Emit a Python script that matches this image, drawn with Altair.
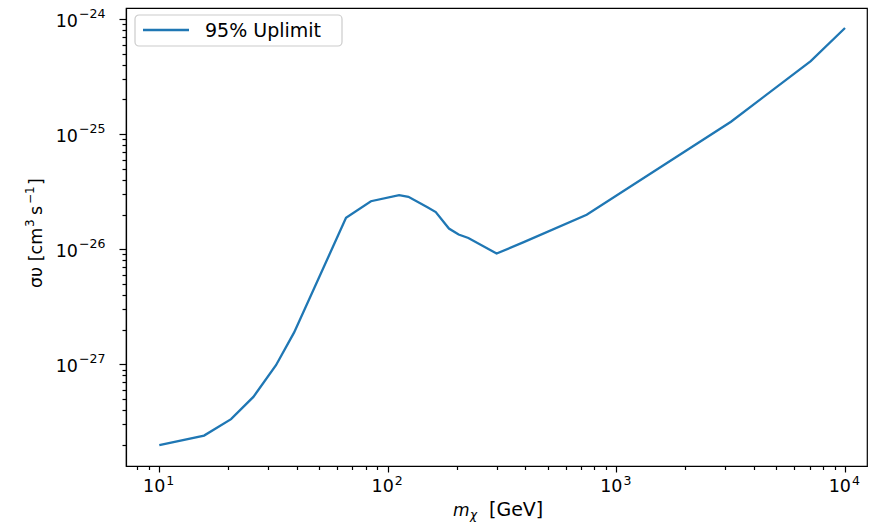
import altair as alt
import pandas as pd

# Data
mass_gev = [10, 15.7, 20.6, 25.8, 32.4, 38.9, 65.6, 84.3, 112, 123, 149, 162,
            185, 204, 225, 299, 393, 741, 3170, 7080, 10000]
sigma_v = [1.98e-28, 2.40e-28, 3.33e-28, 5.2e-28, 9.8e-28, 1.89e-27, 1.87e-26,
           2.61e-26, 2.95e-26, 2.85e-26, 2.31e-26, 2.10e-26, 1.51e-26, 1.34e-26,
           1.25e-26, 9.17e-27, 1.15e-26, 1.99e-26, 1.28e-25, 4.31e-25, 8.35e-25]
series_label = "95% Uplimit"

x_domain = [7.15, 12480]
y_domain = [1.305e-28, 1.247e-24]

# major tick labels: 10^k
x_major = [10, 100, 1000, 10000]
x_exp = ["1", "2", "3", "4"]
y_major = [1e-27, 1e-26, 1e-25, 1e-24]
y_exp = ["−27", "−26", "−25", "−24"]

x_ticks = [m * 10.0 ** k for k in range(0, 5) for m in range(1, 10)]
x_ticks = [v for v in x_ticks if x_domain[0] <= v <= x_domain[1]]
y_ticks = [m * 10.0 ** k for k in range(-28, -23) for m in range(1, 10)]
y_ticks = [v for v in y_ticks if y_domain[0] <= v <= y_domain[1]]

major_test = "abs(log(datum.value)/LN10 - round(log(datum.value)/LN10)) < 0.001"

FONT = "DejaVu Sans"
BLUE = "#1f77b4"
xs = alt.Scale(type="log", domain=x_domain, nice=False)
ys = alt.Scale(type="log", domain=y_domain, nice=False)
x_axis = alt.Axis(values=x_ticks, labels=False, title=None, grid=False,
                  tickSize={"condition": {"test": major_test, "value": 6}, "value": 3.5})
y_axis = alt.Axis(values=y_ticks, labels=False, title=None, grid=False,
                  tickSize={"condition": {"test": major_test, "value": 7}, "value": 4})

df = pd.DataFrame({"mass": mass_gev, "sv": sigma_v})
dfx = pd.DataFrame({"mass": x_major, "e": x_exp})
dfy = pd.DataFrame({"sv": y_major, "e": y_exp})

line = alt.Chart(df).mark_line(color=BLUE, strokeWidth=2.3).encode(
    x=alt.X("mass:Q", scale=xs, axis=x_axis),
    y=alt.Y("sv:Q", scale=ys, axis=y_axis),
)

# x tick labels "10" + superscript exponent
xl_base = alt.Chart(dfx).mark_text(align="right", baseline="alphabetic", fontSize=17.5,
                                   font=FONT, color="black", dx=6).encode(
    x=alt.X("mass:Q", scale=xs, axis=x_axis), y=alt.value(484), text=alt.value("10"))
xl_exp = alt.Chart(dfx).mark_text(align="left", baseline="alphabetic", fontSize=12.5,
                                  font=FONT, color="black", dx=7).encode(
    x=alt.X("mass:Q", scale=xs, axis=x_axis), y=alt.value(477), text="e:N")

# y tick labels
yl_base = alt.Chart(dfy).mark_text(align="right", baseline="alphabetic", fontSize=17.5,
                                   font=FONT, color="black", dy=7.5).encode(
    y=alt.Y("sv:Q", scale=ys, axis=y_axis), x=alt.value(-48), text=alt.value("10"))
yl_exp = alt.Chart(dfy).mark_text(align="left", baseline="alphabetic", fontSize=12.5,
                                  font=FONT, color="black", dy=-1).encode(
    y=alt.Y("sv:Q", scale=ys, axis=y_axis), x=alt.value(-47), text="e:N")

one = pd.DataFrame({"k": [0]})


def txt_piece(s, x, y, size, italic=False, angle=0):
    kw = dict(align="left", baseline="alphabetic", fontSize=size, font=FONT, color="black")
    if italic:
        kw["fontStyle"] = "italic"
    if angle:
        kw["angle"] = angle
    return alt.Chart(one).mark_text(**kw).encode(
        x=alt.value(x), y=alt.value(y), text=alt.value(s))


# x axis title: m_chi [GeV]
x_title = [
    txt_piece("m", 327, 508, 17, italic=True),
    txt_piece("χ", 344, 511, 12, italic=True),
    txt_piece("[GeV]", 363, 508, 19),
]

# y axis title: συ [cm^3 s^-1] (rotated, reading upward)
y_title = [
    txt_piece("συ [cm", -84, 280, 17.5, angle=270),
    txt_piece("3", -92, 219, 12, angle=270),
    txt_piece("s", -84, 207, 17.5, angle=270),
    txt_piece("−1", -92, 196, 12, angle=270),
    txt_piece("]", -84, 177, 17.5, angle=270),
]

# legend
box = alt.Chart(one).mark_rect(cornerRadius=4, fill="white", stroke="#cccccc",
                               strokeWidth=1.2).encode(
    x=alt.value(9), x2=alt.value(216), y=alt.value(7), y2=alt.value(38))
swatch = alt.Chart(one).mark_rule(color=BLUE, strokeWidth=2.3).encode(
    x=alt.value(17), x2=alt.value(63), y=alt.value(22))
legend_txt = alt.Chart(one).mark_text(align="left", baseline="middle", fontSize=19,
                                      font=FONT, color="black").encode(
    x=alt.value(79), y=alt.value(23), text=alt.value(series_label))

chart = alt.layer(line, xl_base, xl_exp, yl_base, yl_exp, *x_title, *y_title,
                  box, swatch, legend_txt).properties(
    width=741, height=458,
    autosize=alt.AutoSizeParams(type="none"),
    padding={"left": 126, "top": 8, "right": 9, "bottom": 57},
    background="white",
).configure_view(stroke="black", strokeWidth=1.2).configure_axis(
    domainColor="black", domainWidth=1.2, tickColor="black", tickWidth=1.2,
)

chart.save("out.html", embed_options={"renderer": "svg", "actions": False})
